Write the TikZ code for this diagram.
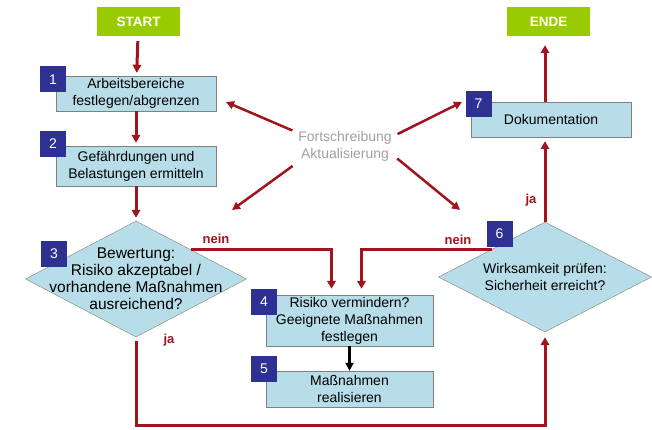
\documentclass[tikz,border=0pt]{standalone}
\usepackage{fontspec}
\setmainfont{Liberation Sans}
\usetikzlibrary{shapes.geometric,arrows.meta}

\definecolor{boxcyan}{HTML}{B7DDE8}
\definecolor{badgeblue}{HTML}{2E3192}
\definecolor{termgreen}{HTML}{99CC00}
\definecolor{flowred}{HTML}{A0141E}
\definecolor{updgray}{HTML}{A0A0A0}

\begin{document}
\begin{tikzpicture}[
            x=1pt, y=-1pt,
            every node/.style={font=\fontsize{14}{17}\selectfont, align=center, inner sep=0pt},
            terminal/.style={fill=termgreen, text=white, font=\fontsize{13.5}{16}\selectfont\bfseries, minimum width=83pt, minimum height=29pt},
            process/.style={draw=gray, fill=boxcyan, minimum width=160pt},
            decision/.style={diamond, draw=gray, fill=boxcyan},
            badge/.style={fill=badgeblue, text=white, minimum size=26pt},
            flow/.style={draw=flowred, line width=3pt, -{Triangle[length=8pt,width=8.5pt]}},
            update/.style={draw=flowred, line width=2.5pt, -{Triangle[length=8pt,width=8pt]}},
            answer/.style={text=flowred, font=\fontsize{13}{15}\selectfont\bfseries}]
            \useasboundingbox (0,0) rectangle (652,430);
            % start and end
            \node[terminal] (start) at (138.5,21.5) {START};
            \node[terminal] (ende) at (548.5,21.5) {ENDE};
            % steps
            \node[process, minimum height=35pt] (b1) at (136,93.5) {Arbeitsbereiche\\festlegen/abgrenzen};
            \node[process, minimum height=40pt] (b2) at (136,166) {Gefährdungen und\\Belastungen ermitteln};
            \node[decision, minimum width=221pt, minimum height=116pt] (d3) at (136,279) {};
            \node[font=\fontsize{15.5}{17}\selectfont] (t3) at (d3) {Bewertung:\\Risiko akzeptabel /\\vorhandene Maßnahmen\\ausreichend?};
            \node[process, minimum width=167pt, minimum height=51pt] (b4) at (349.5,320.5) {Risiko vermindern?\\Geeignete Maßnahmen\\festlegen};
            \node[process, minimum width=167pt, minimum height=36pt] (b5) at (349.5,389) {Maßnahmen\\realisieren};
            \node[decision, minimum width=213pt, minimum height=110pt] (d6) at (545,277) {};
            \node (t6) at (d6) {Wirksamkeit prüfen:\\Sicherheit erreicht?};
            \node[process, minimum height=35pt] (b7) at (551,119.5) {Dokumentation};
            \node[text=updgray, inner sep=3pt] (upd) at (345,146) {Fortschreibung\\Aktualisierung};
            % connectors
            \draw[flow, shorten <=5pt, shorten >=3pt] (start) -- (b1);
            \draw[flow, shorten >=3pt] (b1) -- (b2);
            \draw[flow, shorten >=3pt] (b2) -- (d3);
            \draw[flow, shorten >=6pt] (d3.north east) -| ([xshift=-18pt]b4.north);
            \draw[flow, shorten >=6pt] (d6.north west) -| ([xshift=12pt]b4.north);
            \draw[line width=2.5pt, -{Triangle[length=8pt,width=8pt]}] (b4) -- (b5);
            \draw[flow, shorten <=4pt, shorten >=5pt] (d3.south) -- ++(0,88) -| (d6.south);
            \draw[flow, shorten >=4pt] (d6) -- (d6 |- b7.south);
            \draw[flow, shorten >=9pt] (d6 |- b7.north) -- (d6 |- ende.south);
            % update arrows
            \coordinate (u1) at (226,102);
            \coordinate (u2) at (232,210);
            \coordinate (u3) at (462,102);
            \coordinate (u4) at (460,210);
            \draw[update, shorten <=3pt] (upd.164) -- (u1);
            \draw[update, shorten <=3pt] (upd.200) -- (u2);
            \draw[update, shorten <=3pt] (upd.12) -- (u3);
            \draw[update, shorten <=3pt] (upd.-12) -- (u4);
            % labels
            \node[answer] (nein3) at (216,239) {nein};
            \node[answer] (nein6) at (458,240) {nein};
            \node[answer] (ja3) at (169,340) {ja};
            \node[answer] (ja6) at (531,200) {ja};
            % numbers
            \node[badge] (n1) at (53,79.5) {1};
            \node[badge] (n2) at (53,144) {2};
            \node[badge] (n3) at (54,253.5) {3};
            \node[badge] (n4) at (264,301.5) {4};
            \node[badge] (n5) at (264,368.5) {5};
            \node[badge] (n6) at (499.5,233.5) {6};
            \node[badge] (n7) at (478.5,104) {7};
        \end{tikzpicture}
\end{document}
